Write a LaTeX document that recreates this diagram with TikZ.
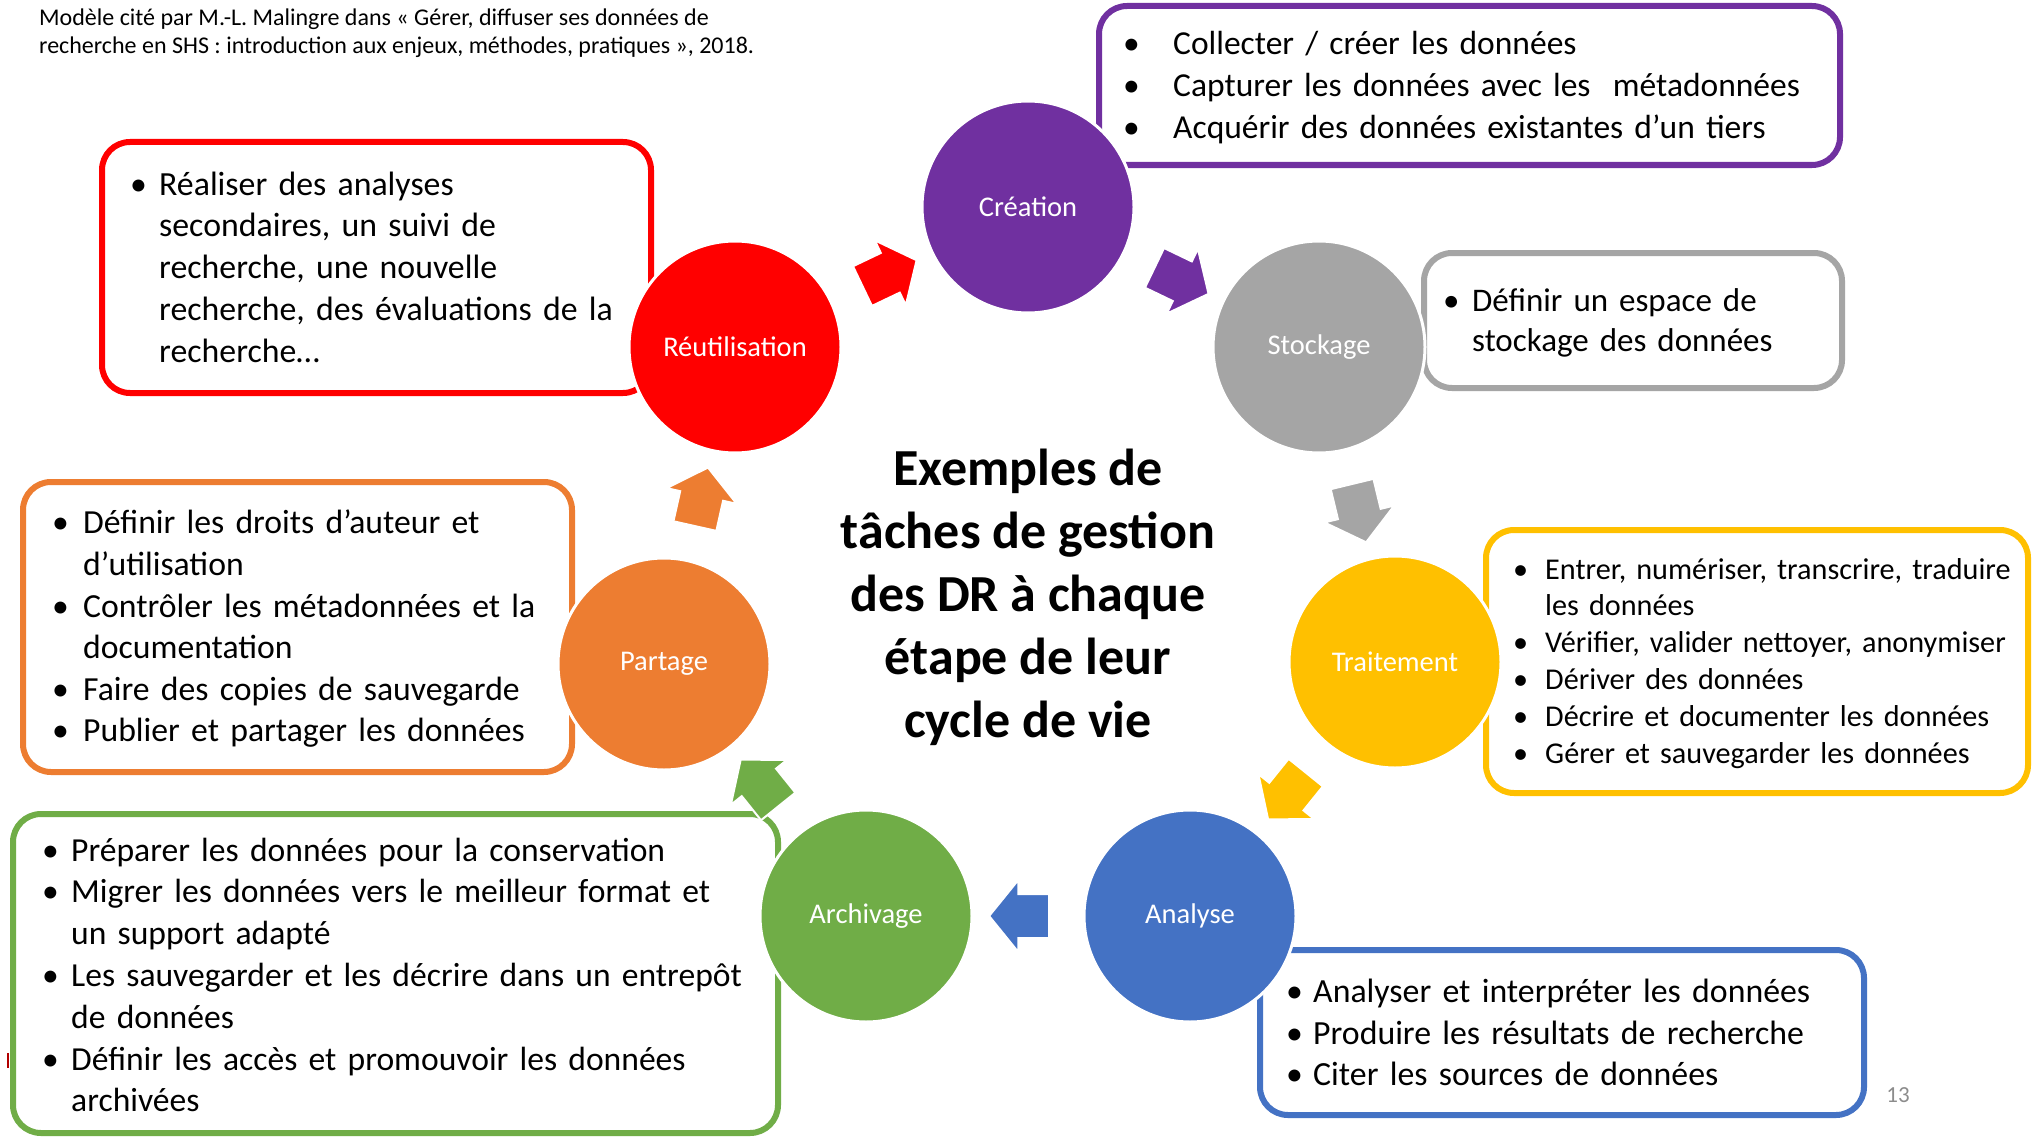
\documentclass[tikz,border=0pt]{standalone}
\usepackage{fontspec}
\setmainfont{Carlito}
\usetikzlibrary{shapes.arrows,calc}
\definecolor{cpurple}{HTML}{7030A0}
\definecolor{cgray}{HTML}{A5A5A5}
\definecolor{cyellow}{HTML}{FFC000}
\definecolor{cblue}{HTML}{4472C4}
\definecolor{cgreen}{HTML}{70AD47}
\definecolor{corange}{HTML}{ED7D31}
\definecolor{cred}{HTML}{FF0000}
\definecolor{pagegray}{HTML}{8C8C8C}
\newcommand\itm[2]{\par\hangindent=#1\relax\hangafter=1\relax\noindent\strut\makebox[#1][l]{\textbullet}#2\par}
\newcommand\brk{\hfil\break}
\begin{document}
\begin{tikzpicture}[x=1pt,y=-1pt,
  rbox/.style={draw=#1, line width=6pt, rounded corners=28pt, fill=white, inner sep=0pt},
  btxt/.style={anchor=north west, inner sep=0pt, text width=900pt},
  circ/.style={circle, fill=#1, draw=white, line width=3pt, minimum size=212pt, inner sep=0pt, text=white, font=\fontsize{28.5}{32}\selectfont},
  barrow/.style={single arrow, fill=#1, draw=white, line width=2pt, minimum height=60pt, minimum width=1pt, inner xsep=0pt, inner ysep=21pt, single arrow head extend=14pt, single arrow tip angle=102, sloped, allow upside down, pos=0.5}
]
\useasboundingbox (0,0) rectangle (2032,1137);
\fill[white] (0,0) rectangle (2032,1137);

% header
\node[anchor=north west, inner sep=0pt, align=left, font=\fontsize{24}{28.5}\selectfont] (hdr) at (39,5) {\strut Modèle cité par M.-L. Malingre dans « Gérer, diffuser ses données de\\recherche en SHS : introduction aux enjeux, méthodes, pratiques », 2018.};

% boxes
\node[rbox=cpurple, minimum width=741pt, minimum height=159pt] (bcrea) at (1469.5,85.5) {};
\node[rbox=cgray, minimum width=418pt, minimum height=135pt] (bstock) at (1633,320.5) {};
\node[rbox=cyellow, minimum width=542pt, minimum height=263pt] (btrait) at (1757,661.5) {};
\node[rbox=cblue, minimum width=604pt, minimum height=165pt] (banal) at (1562,1032.5) {};
\node[rbox=cgreen, minimum width=765pt, minimum height=319pt] (barch) at (395.5,973.5) {};
\node[rbox=corange, minimum width=549pt, minimum height=290pt] (bpart) at (297.5,627) {};
\node[rbox=cred, minimum width=549pt, minimum height=251pt] (breut) at (376.5,267.5) {};

% circles
\node[circ=cpurple] (crea) at (1028,207) {Création};
\node[circ=cgray] (stock) at (1319,347) {Stockage};
\node[circ=cyellow] (trait) at (1395,662) {Traitement};
\node[circ=cblue] (anal) at (1190,916) {Analyse};
\node[circ=cgreen] (arch) at (866,916) {Archivage};
\node[circ=corange] (part) at (664,664) {Partage};
\node[circ=cred] (reut) at (735,347) {Réutilisation};

% arrows
\path (reut) -- node[barrow=cred] (a1) {} (crea);
\path (crea) -- node[barrow=cpurple] (a2) {} (stock);
\path (stock) -- node[barrow=cgray] (a3) {} (trait);
\path (trait) -- node[barrow=cyellow] (a4) {} (anal);
\path (anal) -- node[barrow=cblue] (a5) {} (arch);
\path (arch) -- node[barrow=cgreen] (a6) {} (part);
\path (part) -- node[barrow=corange] (a7) {} (reut);

% centre title
\node[align=center, inner sep=0pt, font=\bfseries\fontsize{52}{63}\selectfont] (title) at (1028,597) {Exemples de\\tâches de gestion\\des DR à chaque\\étape de leur\\cycle de vie};

% box texts
\node[btxt, font=\fontsize{33.5}{42}\selectfont] (tcrea) at (1123,12) {\itm{50pt}{Collecter / créer les données}\itm{50pt}{Capturer les données avec les~ métadonnées}\itm{50pt}{Acquérir des données existantes d’un tiers}};
\node[btxt, font=\fontsize{33}{40}\selectfont] (tstock) at (1443,271) {\itm{29pt}{Définir un espace de\brk stockage des données}};
\node[btxt, font=\fontsize{30.2}{36.8}\selectfont] (ttrait) at (1513,542) {\itm{32pt}{Entrer, numériser, transcrire, traduire\brk les données}\itm{32pt}{Vérifier, valider nettoyer, anonymiser}\itm{32pt}{Dériver des données}\itm{32pt}{Décrire et documenter les données}\itm{32pt}{Gérer et sauvegarder les données}};
\node[btxt, font=\fontsize{33.8}{41.5}\selectfont] (tanal) at (1286,961) {\itm{27pt}{Analyser et interpréter les données}\itm{27pt}{Produire les résultats de recherche}\itm{27pt}{Citer les sources de données}};
\node[btxt, font=\fontsize{33.6}{41.8}\selectfont] (tarch) at (42,819) {\itm{29pt}{Préparer les données pour la conservation}\itm{29pt}{Migrer les données vers le meilleur format et\brk un support adapté}\itm{29pt}{Les sauvegarder et les décrire dans un entrepôt\brk de données}\itm{29pt}{Définir les accès et promouvoir les données\brk archivées}};
\node[btxt, font=\fontsize{33.7}{41.6}\selectfont] (tpart) at (52,492) {\itm{31pt}{Définir les droits d’auteur et\brk d’utilisation}\itm{31pt}{Contrôler les métadonnées et la\brk documentation}\itm{31pt}{Faire des copies de sauvegarde}\itm{31pt}{Publier et partager les données}};
\node[btxt, font=\fontsize{33.8}{41.8}\selectfont] (treut) at (130,153) {\itm{29pt}{Réaliser des analyses\brk secondaires, un suivi de\brk recherche, une nouvelle\brk recherche, des évaluations de la\brk recherche…}};

% page number and stray mark
\node[text=pagegray, font=\fontsize{23}{28}\selectfont] (pg) at (1898,1095) {13};
\draw[red!70!black, line width=1.5pt] (8,1053) -- (8,1068);
\end{tikzpicture}
\end{document}
